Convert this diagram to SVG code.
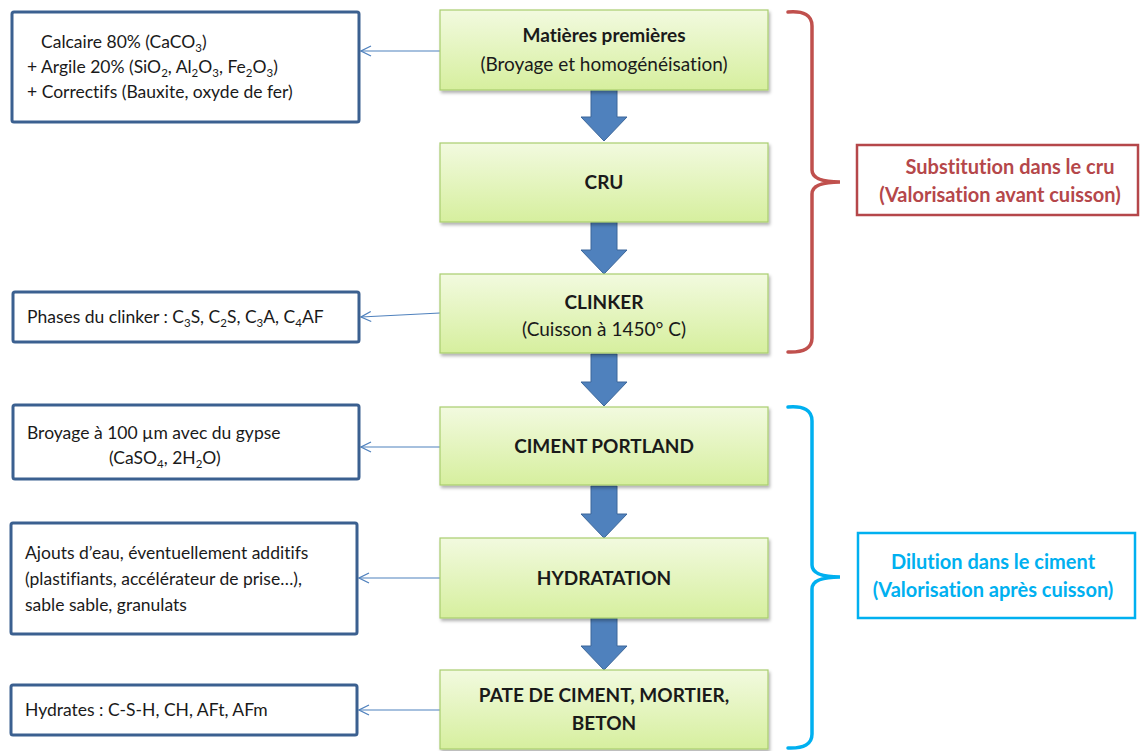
<svg xmlns="http://www.w3.org/2000/svg" width="1142" height="751" viewBox="0 0 1142 751">
<defs>
<linearGradient id="g" x1="0" y1="0" x2="0" y2="1">
<stop offset="0" stop-color="#F2FADF"/>
<stop offset="1" stop-color="#D6EF9E"/>
</linearGradient>
<filter id="sh" x="-5%" y="-10%" width="110%" height="125%">
<feDropShadow dx="1.5" dy="2.5" stdDeviation="1.5" flood-color="#000" flood-opacity="0.3"/>
</filter>
<marker id="open" viewBox="0 0 12 12" refX="11" refY="6" markerWidth="12" markerHeight="12" markerUnits="userSpaceOnUse" orient="auto">
<path d="M1,1 L11,6 L1,11" fill="none" stroke="#4F81BD" stroke-width="1.3"/>
</marker>
<path id="blk" d="M-13,0 L13,0 L13,28 L23,28 L0,52 L-23,28 L-13,28 Z"/>
</defs>
<style>
text{font-variant-ligatures:none}
.step{fill:url(#g);stroke:#A9CD6E;stroke-width:1.2;filter:url(#sh)}
.info{fill:#fff;stroke:#3B6090;stroke-width:3}
.t{font-family:Lato,"Open Sans",sans-serif;fill:#1a1a1a}
.b{font-weight:bold;font-size:19px}
.r{font-size:19px}
.l{font-size:17.5px}
.sub{font-size:11.5px}
.arr{fill:#4F81BD;stroke:#3C679A;stroke-width:1}
.con{fill:none;stroke:#4F81BD;stroke-width:1.2;marker-end:url(#open)}
.brace{fill:none;stroke-width:3.5;stroke-linecap:round}
.rt{font-family:Lato,"Open Sans",sans-serif;font-weight:bold;font-size:20px}
</style>

<g id="connectors">
<line class="con" x1="440" y1="51" x2="361" y2="51"/>
<line class="con" x1="440" y1="313" x2="361" y2="317"/>
<line class="con" x1="440" y1="447" x2="361" y2="447"/>
<line class="con" x1="440" y1="578" x2="359" y2="578"/>
<line class="con" x1="440" y1="710" x2="359" y2="710"/>
<use href="#blk" class="arr" x="604" y="89"/>
<use href="#blk" class="arr" x="604" y="222"/>
<use href="#blk" class="arr" x="604" y="354"/>
<use href="#blk" class="arr" x="604" y="486"/>
<use href="#blk" class="arr" x="604" y="618"/>
</g>

<g id="n1">
<rect class="step" x="440" y="10" width="328" height="80"/>
<text class="t b" x="604" y="42" text-anchor="middle">Matières premières</text>
<text class="t r" x="604" y="71" text-anchor="middle">(Broyage et homogénéisation)</text>
</g>
<g id="n2">
<rect class="step" x="440" y="143" width="328" height="79"/>
<text class="t b" x="604" y="189" text-anchor="middle">CRU</text>
</g>
<g id="n3">
<rect class="step" x="440" y="274" width="328" height="79"/>
<text class="t b" x="604" y="309" text-anchor="middle">CLINKER</text>
<text class="t r" x="604" y="336" text-anchor="middle">(Cuisson à 1450° C)</text>
</g>
<g id="n4">
<rect class="step" x="440" y="407" width="328" height="78"/>
<text class="t b" x="604" y="453" text-anchor="middle">CIMENT PORTLAND</text>
</g>
<g id="n5">
<rect class="step" x="440" y="538" width="328" height="80"/>
<text class="t b" x="604" y="585" text-anchor="middle">HYDRATATION</text>
</g>
<g id="n6">
<rect class="step" x="440" y="670" width="328" height="79"/>
<text class="t b" x="604" y="702" text-anchor="middle">PATE DE CIMENT, MORTIER,</text>
<text class="t b" x="604" y="730" text-anchor="middle">BETON</text>
</g>

<g id="a1">
<rect class="info" x="12" y="12" width="347" height="110" rx="2"/>
<text class="t l" x="41" y="48">Calcaire  80% (CaCO<tspan class="sub" dy="4">3</tspan><tspan dy="-4">)</tspan></text>
<text class="t l" x="27" y="73">+ Argile 20% (SiO<tspan class="sub" dy="4">2</tspan><tspan dy="-4">, Al</tspan><tspan class="sub" dy="4">2</tspan><tspan dy="-4">O</tspan><tspan class="sub" dy="4">3</tspan><tspan dy="-4">, Fe</tspan><tspan class="sub" dy="4">2</tspan><tspan dy="-4">O</tspan><tspan class="sub" dy="4">3</tspan><tspan dy="-4">)</tspan></text>
<text class="t l" x="27" y="98">+ Correctifs (Bauxite, oxyde de fer)</text>
</g>
<g id="a2">
<rect class="info" x="13" y="292" width="346" height="50" rx="2"/>
<text class="t l" x="27" y="323">Phases du clinker : C<tspan class="sub" dy="4">3</tspan><tspan dy="-4">S, C</tspan><tspan class="sub" dy="4">2</tspan><tspan dy="-4">S, C</tspan><tspan class="sub" dy="4">3</tspan><tspan dy="-4">A, C</tspan><tspan class="sub" dy="4">4</tspan><tspan dy="-4">AF</tspan></text>
</g>
<g id="a3">
<rect class="info" x="13" y="405" width="346" height="74" rx="2"/>
<text class="t l" x="27" y="439">Broyage à 100  µm avec du gypse</text>
<text class="t l" x="109" y="464">(CaSO<tspan class="sub" dy="4">4</tspan><tspan dy="-4">, 2H</tspan><tspan class="sub" dy="4">2</tspan><tspan dy="-4">O)</tspan></text>
</g>
<g id="a4">
<rect class="info" x="11" y="523" width="346" height="111" rx="2"/>
<text class="t l" x="25" y="559">Ajouts d’eau, éventuellement additifs</text>
<text class="t l" x="25" y="585">(plastifiants, accélérateur de prise…),</text>
<text class="t l" x="25" y="611">sable sable, granulats</text>
</g>
<g id="a5">
<rect class="info" x="11" y="685" width="346" height="50" rx="2"/>
<text class="t l" x="25" y="716">Hydrates : C-S-H, CH, AFt, AFm</text>
</g>

<g id="brace-red">
<path class="brace" stroke="#C0504D" d="M788,12 Q812,10 812,26 L812,170 Q812,182 840,182 Q812,182 812,194 L812,338 Q812,353 788,352"/>
</g>
<g id="box-red">
<rect x="857" y="145" width="281" height="70" fill="#fff" stroke="#B5474A" stroke-width="2.5"/>
<text class="rt" x="1010" y="174" text-anchor="middle" fill="#B5474A">Substitution dans le cru</text>
<text class="rt" x="1000" y="202" text-anchor="middle" fill="#B5474A">(Valorisation avant cuisson)</text>
</g>
<g id="brace-blue">
<path class="brace" stroke="#00B0F0" d="M788,407 Q812,405 812,421 L812,565 Q812,577 840,577 Q812,577 812,589 L812,734 Q812,749 788,748"/>
</g>
<g id="box-blue">
<rect x="858" y="533" width="277" height="85" fill="#fff" stroke="#00B0F0" stroke-width="2.5"/>
<text class="rt" x="993" y="569" text-anchor="middle" fill="#00B0F0">Dilution dans le ciment</text>
<text class="rt" x="993" y="597" text-anchor="middle" fill="#00B0F0">(Valorisation après cuisson)</text>
</g>
</svg>
